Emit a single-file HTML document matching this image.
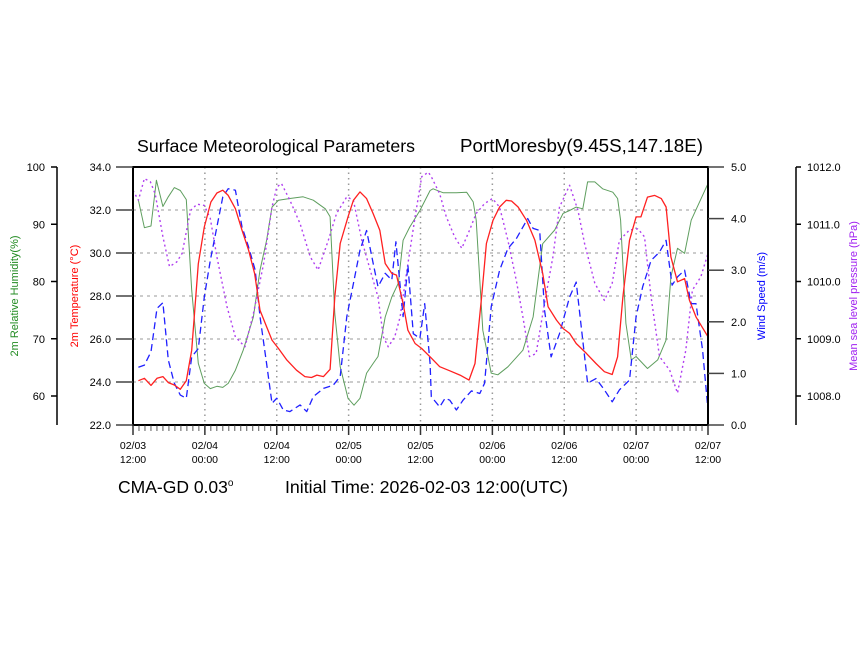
<!DOCTYPE html>
<html><head><meta charset="utf-8"><style>
html,body{margin:0;padding:0;background:#fff;}
svg{display:block;font-family:"Liberation Sans",sans-serif;}
</style></head><body>
<svg id="chart" width="860" height="645" viewBox="0 0 860 645">
<text x="137" y="152" font-size="17.5" textLength="278" lengthAdjust="spacingAndGlyphs" fill="#000">Surface Meteorological Parameters</text>
<text x="460" y="152" font-size="18" textLength="243" lengthAdjust="spacingAndGlyphs" fill="#000">PortMoresby(9.45S,147.18E)</text>
<text x="118" y="493" font-size="17.5" fill="#000">CMA-GD 0.03<tspan dy="-7" font-size="10">o</tspan></text>
<text x="285" y="493" font-size="17.5" textLength="283" lengthAdjust="spacingAndGlyphs" fill="#000">Initial Time: 2026-02-03 12:00(UTC)</text>
<text transform="translate(18,296) rotate(-90)" text-anchor="middle" font-size="11" fill="#228B22">2m Relative Humidity(%)</text>
<text transform="translate(78,296) rotate(-90)" text-anchor="middle" font-size="11" fill="#ff0000">2m Temperature (°C)</text>
<text transform="translate(765,296) rotate(-90)" text-anchor="middle" font-size="11" fill="#0000ff">Wind Speed (m/s)</text>
<text transform="translate(857,296) rotate(-90)" text-anchor="middle" font-size="11" fill="#a020f0">Mean sea level pressure (hPa)</text>
<g id="g"></g>
</svg>
<script>
const xTickLabels=["02/03|12:00","02/04|00:00","02/04|12:00","02/05|00:00","02/05|12:00","02/06|00:00","02/06|12:00","02/07|00:00","02/07|12:00"];
const tempTicks=[22,24,26,28,30,32,34];
const rhTicks=[60,70,80,90,100];
const windTicks=[0,1,2,3,4,5];
const presTicks=[1008,1009,1010,1011,1012];
const tempHours=[0.9,1.9,3,4,5,5.9,6.9,7.9,8.9,9.8,10.9,11.9,13,14,15,15.9,17.1,18.2,19.3,20.3,21.2,22.3,23.2,24.3,25.7,27.3,28.7,29.8,30.7,31.8,32.9,33.7,34.6,35.9,36.8,37.9,39,40.1,41.2,42.1,43.2,44,45.1,45.9,47.1,48.2,49.3,49.6,51.2,52.9,54.6,56.1,57.1,58.2,59,60.1,61.2,62.3,63.2,64.3,65.7,67.1,68.4,69.3,70.7,71.8,72.9,74,75.7,77.3,78.7,80,80.9,81.8,82.9,84,84.8,85.9,87.1,88.2,89,89.8,90.9,92.1,92.9,94,96];
const tempVals=[24.06,24.17,23.84,24.17,24.25,23.97,23.86,23.66,24.06,25.48,29.5,31.21,32.37,32.79,32.92,32.68,32.06,31.06,30.13,29.05,27.34,26.57,25.95,25.56,25.02,24.55,24.25,24.21,24.32,24.25,24.59,27.96,30.44,31.68,32.45,32.84,32.53,31.83,31.06,29.51,29.05,28.97,27.65,26.41,25.79,25.56,25.25,25.17,24.71,24.52,24.32,24.09,24.86,27.96,30.44,31.52,32.14,32.45,32.42,32.14,31.52,30.59,29.05,27.5,26.88,26.49,26.26,25.79,25.33,24.86,24.48,24.35,25.17,27.96,30.59,31.68,31.68,32.6,32.68,32.53,32.14,29.82,28.66,28.81,27.81,27.03,26.1];
const rhHours=[0.9,1.9,3,3.9,5,5.9,6.9,7.9,8.9,9.8,10.9,11.9,12.9,14,15,15.9,17.1,18.4,20.1,21.2,22.3,23.2,24.3,26.2,28.4,30.1,32.1,32.9,33.7,34.6,35.9,36.9,37.9,39,40.1,40.9,42.1,43.2,44.3,45.1,46.2,47.9,49.6,50.1,51.8,54,55.7,56.8,57.3,58.4,59.8,60.9,62.6,65.1,66.8,68.4,70.4,71.8,72.9,74,75.1,75.9,77.1,78.4,80.1,80.9,81.4,82.3,83.2,84,85.9,87.6,89,89.8,90.9,92.1,93.2,96];
const rhVals=[94.2,89.4,89.7,97.7,93.1,94.8,96.4,95.9,94.3,78.5,65.7,62.2,61.3,61.7,61.5,62.2,64.5,68,73.8,82,87.2,93,94.2,94.5,94.8,94.2,92.7,91.3,74.4,65.1,59.6,58.4,59.6,64,65.7,66.9,73.8,77.3,79.7,87.2,89.5,92.4,95.9,96.2,95.5,95.5,95.6,93.9,90.7,71.5,64,63.7,65.1,68,73.8,86.6,89,91.9,92.4,93,92.7,97.4,97.4,96.2,95.6,94.5,90.7,72.7,66.3,66.9,64.8,66.3,69.8,80.8,85.8,84.9,90.7,97.1];
const windHours=[0.9,1.9,3,4,5,5.9,6.9,7.9,8.9,9.8,10.9,11.9,12.9,14,15,15.9,17.1,18.2,19.3,20.4,21.2,22.3,23.2,24,25.1,26.2,27.9,29,30.1,31.8,33.4,34.6,35.7,36.8,37.9,39,40.1,40.9,42.1,43.2,43.9,45.1,45.9,46.8,47.9,48.7,49.6,49.8,51.2,52.1,52.9,54,55.1,56.5,57.9,58.7,59.8,61.2,62.6,64,65.9,66.8,67.9,68.7,69.8,71.2,72.9,74,75.9,77.3,78.7,80,81.2,82.9,84,85.1,86.5,87.9,89,90,90.9,92.1,93.2,94,95.1,96];
const windVals=[1.12,1.16,1.42,2.26,2.37,1.26,0.81,0.58,0.52,1.32,1.48,2.48,3.19,3.84,4.42,4.58,4.55,3.84,3.45,3,2.1,1.19,0.42,0.52,0.29,0.26,0.39,0.26,0.55,0.71,0.77,0.94,2.1,2.74,3.39,3.77,3.13,2.68,2.94,2.81,3.55,2.1,3.1,1.77,1.68,2.35,1.19,0.55,0.35,0.52,0.48,0.29,0.48,0.66,0.61,0.81,2.29,3,3.42,3.61,4,3.81,3.77,2.23,1.32,1.77,2.48,2.77,0.81,0.9,0.68,0.45,0.68,0.87,2.1,2.68,3.19,3.35,3.58,2.71,2.87,3,2.35,2.35,1.45,0.29];
const presHours=[0,0.9,1.9,2.9,3.7,5,6.1,7.3,8.2,9.6,10.7,11.9,12.9,14,15.7,17.1,18.7,20.1,21.8,23.2,24,24.8,26.2,27.9,29.6,30.9,32.6,34,35.7,36.8,38.2,39.6,40.9,41.8,42.6,43.7,44.6,45.9,47.1,48.2,49.3,49.8,51.2,52.3,53.7,54.9,56.2,57.3,58.7,60,61.2,62.6,64,65.1,66.2,67.3,68.7,70.1,71.2,72.9,74.3,75.4,77.1,78.7,80,81.2,82.9,84.3,85.4,86.5,87.9,89.6,90.9,92.3,93.4,94.8,96];
const presVals=[1011.59,1011.42,1011.8,1011.74,1011.53,1010.78,1010.26,1010.34,1010.49,1011.24,1011.35,1011.33,1011.1,1010.43,1009.56,1009.03,1008.86,1009.44,1010.31,1011.3,1011.65,1011.71,1011.42,1011.01,1010.43,1010.2,1010.72,1011.19,1011.48,1011.42,1010.72,1010.2,1009.73,1009.03,1008.86,1009.03,1009.38,1010.31,1011.13,1011.83,1011.91,1011.83,1011.53,1011.13,1010.78,1010.58,1010.9,1011.19,1011.36,1011.45,1011.3,1010.72,1010.02,1009.38,1008.69,1008.74,1009.62,1010.43,1011.3,1011.68,1011.24,1010.66,1009.97,1009.67,1009.97,1010.72,1010.9,1010.92,1010.78,1009.73,1008.69,1008.45,1008.05,1008.8,1009.85,1010.08,1010.49];

const L=133,R=708,T=167,B=425;
const xS=h=>L+h/96*(R-L);
const yT=v=>B-(v-22)/12*(B-T);
const yRH=v=>T+(100-v)*(396-T)/40;
const yW=v=>B-v/5*(B-T);
const yP=v=>T+(1012-v)*(396-T)/4;
const NS="http://www.w3.org/2000/svg";
const g=document.getElementById('g');
function mk(tag,attrs,parent){const e=document.createElementNS(NS,tag);for(const k in attrs)e.setAttribute(k,attrs[k]);(parent||g).appendChild(e);return e;}
function txt(x,y,s,attrs){const e=mk('text',Object.assign({x:x,y:y,'font-size':11,fill:'#000'},attrs||{}));e.textContent=s;return e;}

tempTicks.forEach(v=>{if(v>22&&v<34){const l=mk('line',{x1:L,x2:R,y1:yT(v),y2:yT(v),stroke:'#999','stroke-width':1,'stroke-dasharray':'3,4'});

}});
xTickLabels.forEach((s,i)=>{const h=i*12;if(i>0&&i<xTickLabels.length-1){const l=mk('line',{x1:xS(h),x2:xS(h),y1:T,y2:B,stroke:'#999','stroke-width':1.5,'stroke-dasharray':'1.5,4'});

}});

function series(hs,vs,ys,color,dash,name,w){let d='';hs.forEach((h,i)=>{d+=(i?'L':'M')+xS(h).toFixed(1)+','+ys(vs[i]).toFixed(1);});
const p=mk('path',{d:d,fill:'none',stroke:color,'stroke-width':w,'stroke-dasharray':dash,'stroke-linejoin':'round'});

}
series(rhHours,rhVals,yRH,'#5e9e5e','none','rh-line',1);
series(presHours,presVals,yP,'#b040f0','2,3','pressure-line',1.4);
series(windHours,windVals,yW,'#2020ff','7,4','wind-line',1.3);
series(tempHours,tempVals,yT,'#ff2020','none','temp-line',1.3);

const fr=mk('rect',{x:L,y:T,width:R-L,height:B-T,fill:'none',stroke:'#000','stroke-width':2});



tempTicks.forEach(v=>{mk('line',{x1:116,x2:L,y1:yT(v),y2:yT(v),stroke:'#444','stroke-width':1.5});
const t=txt(111,yT(v)+4,v.toFixed(1),{'text-anchor':'end'});

});
const ra=mk('line',{x1:57,x2:57,y1:T,y2:B,stroke:'#000','stroke-width':1.5});


rhTicks.forEach(v=>{mk('line',{x1:51,x2:57,y1:yRH(v),y2:yRH(v),stroke:'#000','stroke-width':1.5});
const t=txt(45,yRH(v)+4,String(v),{'text-anchor':'end'});

});
windTicks.forEach(v=>{mk('line',{x1:R,x2:724,y1:yW(v),y2:yW(v),stroke:'#444','stroke-width':1.5});
const t=txt(731,yW(v)+4,v.toFixed(1));

});
const pa=mk('line',{x1:796,x2:796,y1:T,y2:B,stroke:'#000','stroke-width':1.5});


presTicks.forEach(v=>{mk('line',{x1:796,x2:801,y1:yP(v),y2:yP(v),stroke:'#000','stroke-width':1.5});
const t=txt(807,yP(v)+4,v.toFixed(1));

});
for(let h=0;h<=96;h++){const major=h%12===0;mk('line',{x1:xS(h),x2:xS(h),y1:B,y2:B+(major?10:6),stroke:'#333','stroke-width':major?1.5:0.8});}
xTickLabels.forEach((s,i)=>{const [a,b]=s.split('|');const x=xS(i*12);
const t1=txt(x,449,a,{'text-anchor':'middle','font-size':10.5});


const t2=txt(x,463,b,{'text-anchor':'middle','font-size':10.5});

});
</script>
</body></html>
